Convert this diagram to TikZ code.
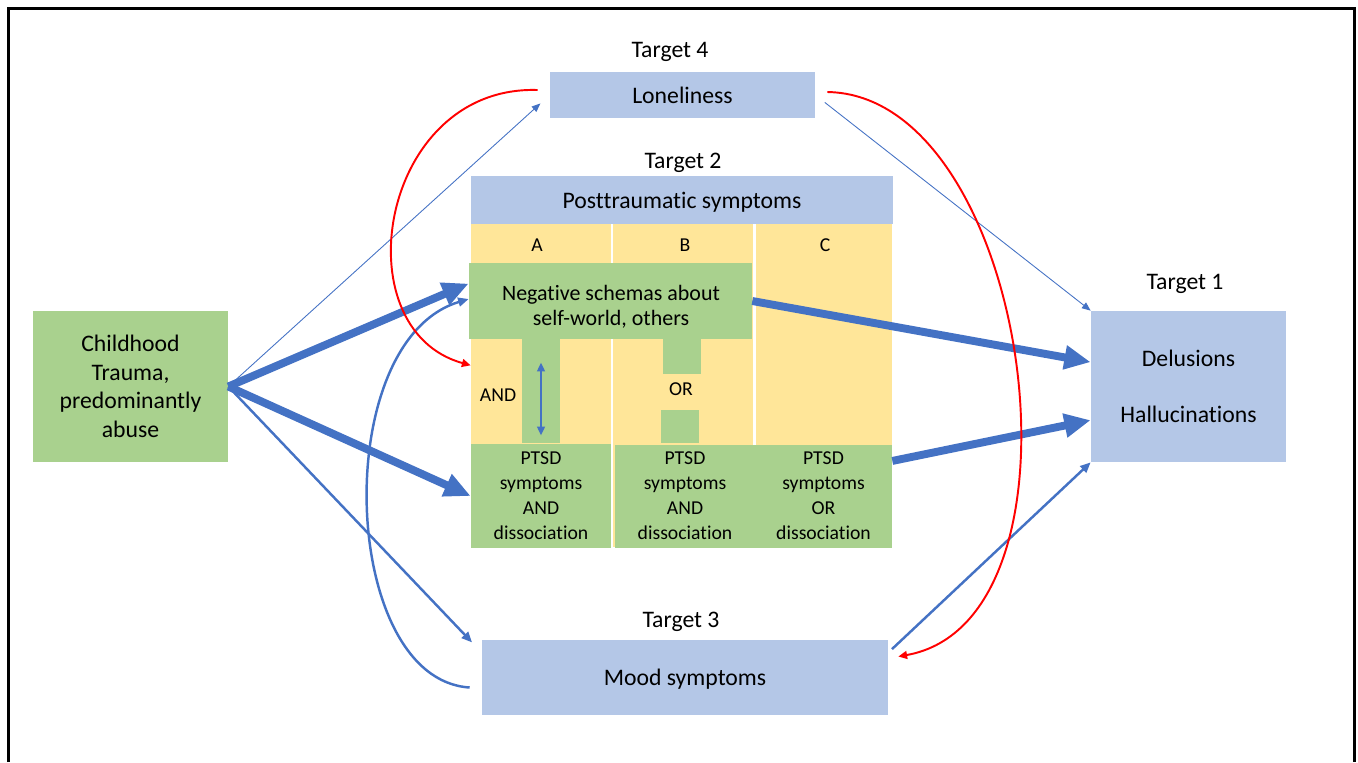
\documentclass[tikz,border=0pt]{standalone}
\usepackage{fontspec}
\setmainfont{Carlito}[Ligatures=NoCommon]
\usetikzlibrary{arrows.meta}
\definecolor{boxblue}{HTML}{B4C7E7}
\definecolor{boxgreen}{HTML}{A9D18E}
\definecolor{boxyellow}{HTML}{FFE699}
\definecolor{arrblue}{HTML}{4472C4}
\definecolor{arrred}{HTML}{FF0000}
\begin{document}
\begin{tikzpicture}[x=0.02cm, y=-0.02cm,
    box/.style={inner sep=0pt, align=center, font=\fontsize{13.5}{16.2}\selectfont},
    bluebox/.style={box, fill=boxblue},
    greenbox/.style={box, fill=boxgreen},
    colbox/.style={fill=boxyellow, inner sep=0pt, minimum width=2.8cm, minimum height=6.46cm},
    stem/.style={fill=boxgreen, inner sep=0pt, minimum width=0.76cm},
    small/.style={font=\fontsize{11.2}{14.2}\selectfont},
    tag/.style={text depth=0pt, font=\fontsize{13.5}{16.2}\selectfont},
    heavy/.style={arrblue, line width=4.5pt, -{Triangle[length=15pt,width=13pt]}},
    medium/.style={arrblue, line width=1.4pt, -{Triangle[length=6pt,width=5pt]}},
    light/.style={arrblue, line width=0.5pt, -{Triangle[length=5pt,width=4pt]}},
    redarr/.style={arrred, line width=1.1pt, -{Triangle[length=5pt,width=4.5pt]}},
    both/.style={arrblue, line width=0.9pt, {Triangle[length=5pt,width=4.5pt]}-{Triangle[length=5pt,width=4.5pt]}}]
    \useasboundingbox (0,0) rectangle (1358,762);
    \draw[line width=1.7pt] (8.5,762) -- (8.5,8.5) -- (1354.5,8.5) -- (1354.5,762);

    \node[tag] (t4) at (670,50) {Target 4};
    \node[bluebox, text depth=0pt, minimum width=5.3cm, minimum height=0.92cm] (lonely) at (682.5,95) {Loneliness};
    \node[tag] (t2) at (683,161) {Target 2};
    \node[bluebox, text depth=0pt, minimum width=8.44cm, minimum height=0.96cm] (post) at (682,200) {Posttraumatic symptoms};

    \node[colbox] (colA) at (541,385.5) {};
    \node[colbox] (colB) at (683,385.5) {};
    \node[colbox, minimum width=2.72cm] (colC) at (824,385.5) {};
    \node[small] (la) at (537,245) {A};
    \node[small] (lb) at (685,245) {B};
    \node[small] (lc) at (825,245) {C};

    \node[fill=boxgreen, inner sep=0pt, minimum width=5.66cm, minimum height=1.52cm] (schemas) at (610.5,301) {};
    \node[box, font=\fontsize{12.5}{14.2}\selectfont] (schematext) at (611,307) {Negative schemas about\\self-world, others};
    \node[stem, minimum height=2.08cm] (stemA) at (541,391) {};
    \node[stem, minimum height=0.7cm] (stemB) at (682,356.5) {};
    \node[stem, minimum height=0.66cm] (stemC) at (680,426.5) {};
    \node[small] (and) at (498,395) {AND};
    \node[small] (or) at (681,389) {OR};

    \node[greenbox, small, minimum width=2.8cm, minimum height=2.08cm] (ptsdA) at (541,496) {PTSD\\symptoms\\AND\\dissociation};
    \node[greenbox, small, minimum width=2.8cm, minimum height=2.06cm] (ptsdB) at (685,496) {PTSD\\symptoms\\AND\\dissociation};
    \node[greenbox, small, minimum width=2.74cm, minimum height=2.06cm] (ptsdC) at (823.5,496) {PTSD\\symptoms\\OR\\dissociation};

    \node[greenbox, minimum width=3.9cm, minimum height=3.02cm] (child) at (130.5,386.5) {Childhood\\Trauma,\\predominantly\\abuse};
    \node[tag] (t1) at (1185,282) {Target 1};
    \node[bluebox, minimum width=3.9cm, minimum height=3.02cm] (delus) at (1188.5,386.5) {Delusions\\[16pt]Hallucinations};
    \node[tag] (t3) at (681,620) {Target 3};
    \node[bluebox, text depth=0pt, minimum width=8.12cm, minimum height=1.5cm] (mood) at (685,677.5) {Mood symptoms};

    \draw[light, shorten >=0.25cm] (child.east) -- (lonely.west);
    \draw[heavy] (child.east) -- (schemas.173);
    \draw[heavy] (child.east) -- (ptsdA.west);
    \draw[medium, shorten >=0.28cm] (child.east) -- (mood.173);
    \draw[heavy] (schemas.east) -- (delus.166);
    \draw[heavy] (ptsdC.27) -- (delus.199);
    \draw[light, shorten <=0.24cm] (lonely.east) -- (delus.north west);
    \draw[medium, shorten <=0.1cm] (mood.7) -- (delus.south west);
    \draw[both, shorten <=0.48cm, shorten >=0.16cm] (stemA.north) -- (stemA.south);
    \draw[medium] ([xshift=-0.24cm, yshift=-0.2cm]mood.west) .. controls +(-130,-8) and +(-140,42) .. ([yshift=0.04cm]schemas.west);
    \draw[redarr] ([xshift=-0.24cm, yshift=0.1cm]lonely.west) .. controls +(-158,-5) and +(-130,-36) .. (colA.164);
    \draw[redarr] ([xshift=0.24cm, yshift=0.06cm]lonely.east) .. controls +(203,3) and +(203,-36) .. ([xshift=0.2cm, yshift=0.42cm]mood.east);
\end{tikzpicture}
\end{document}
